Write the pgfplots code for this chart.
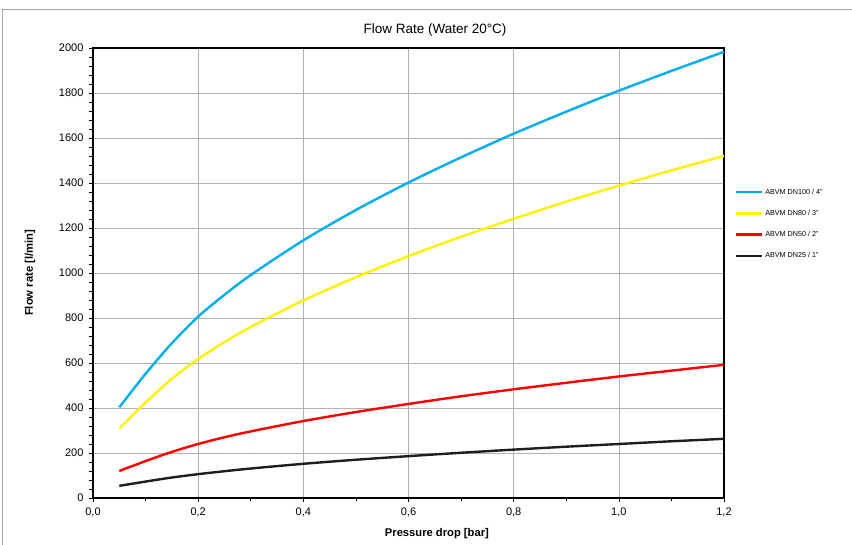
\documentclass[border=0pt]{standalone}
\usepackage{pgfplots}
\pgfplotsset{compat=1.18}
\usepackage{fontspec}
\setmainfont{Liberation Sans}
\definecolor{cblue}{RGB}{0,174,239}
\definecolor{cyellow}{RGB}{255,242,0}
\definecolor{cred}{RGB}{255,0,0}
\definecolor{cblack}{RGB}{30,30,30}
\begin{document}
\begin{tikzpicture}[x=1pt,y=1pt]
\useasboundingbox (-93,-47) rectangle (759,498);
\draw[gray!70, line width=1pt] (-90,-47) -- (-90,488) -- (759,488);
\node[font=\fontsize{13.5}{15}\selectfont] at (342,468) {Flow Rate (Water 20°C)};
\begin{axis}[
  scale only axis, width=631pt, height=450pt,
  xmin=0, xmax=1.2, ymin=0, ymax=2000,
  xtick={0,0.2,...,1.2}, minor x tick num=1,
  ytick={0,200,...,2000}, minor y tick num=4,
  xtick pos=left, ytick pos=left, tick align=outside,
  major tick length=4pt, minor tick length=3.5pt,
  every tick/.style={black, line width=0.6pt},
  grid=major, major grid style={gray!60, line width=0.6pt},
  axis line style={black, line width=1.3pt},
  /pgf/number format/assume math mode=true,
  xticklabel style={yshift=-2pt, /pgf/number format/use comma, /pgf/number format/fixed, /pgf/number format/fixed zerofill, /pgf/number format/precision=1},
  yticklabel style={xshift=-2pt, /pgf/number format/fixed, /pgf/number format/int detect, /pgf/number format/1000 sep={}},
  tick label style={font=\fontsize{11}{13}\selectfont},
  xlabel={\textbf{Pressure drop [bar]}},
  ylabel={\textbf{Flow rate [l/min]}},
  label style={font=\fontsize{11.2}{13}\selectfont},
  xlabel style={at={(axis description cs:0.545,-0.08)}, anchor=center},
  ylabel style={at={(axis description cs:-0.1,0.5)}, anchor=center},
  legend style={draw=none, fill=none, at={(axis description cs:1.017,0.692)}, anchor=north west,
    font=\fontsize{7.2}{8}\selectfont, row sep=10.5pt, inner sep=0pt},
  legend cell align=left,
  legend image code/.code={\draw[#1] (0pt,0pt) -- (26pt,0pt);},
  every axis plot/.append style={line width=2.4pt, smooth, no markers},
]
\addplot[cblue] coordinates {(0.05,403)(0.1,552)(0.15,688)(0.2,806)(0.25,903)(0.3,991)(0.4,1145)(0.5,1280)(0.6,1402)(0.7,1514)(0.8,1619)(0.9,1717)(1.0,1810)(1.1,1898)(1.2,1983)};
\addlegendentry{ABVM DN100 / 4"}
\addplot[cyellow] coordinates {(0.05,309)(0.1,424)(0.15,530)(0.2,617)(0.25,693)(0.3,760)(0.4,878)(0.5,981)(0.6,1075)(0.7,1161)(0.8,1241)(0.9,1317)(1.0,1388)(1.1,1456)(1.2,1520)};
\addlegendentry{ABVM DN80 / 3"}
\addplot[cred] coordinates {(0.05,120)(0.1,164)(0.15,205)(0.2,240)(0.25,270)(0.3,296)(0.4,342)(0.5,382)(0.6,418)(0.7,452)(0.8,483)(0.9,512)(1.0,540)(1.1,566)(1.2,592)};
\addlegendentry{ABVM DN50 / 2"}
\addplot[cblack] coordinates {(0.05,54)(0.1,73)(0.15,91)(0.2,106)(0.25,119)(0.3,131)(0.4,152)(0.5,170)(0.6,186)(0.7,201)(0.8,215)(0.9,228)(1.0,240)(1.1,252)(1.2,263)};
\addlegendentry{ABVM DN25 / 1"}
\end{axis}
\end{tikzpicture}
\end{document}
